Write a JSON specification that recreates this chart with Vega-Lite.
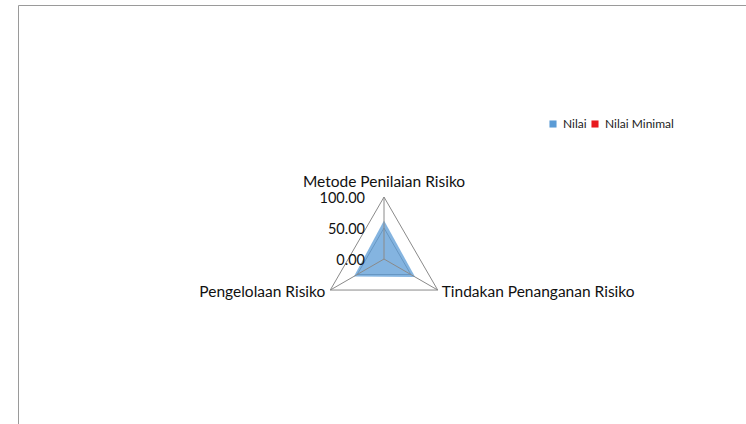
{
  "$schema": "https://vega.github.io/schema/vega-lite/v6.json",
  "width": 740,
  "height": 430,
  "padding": {"left": 18, "top": 5, "right": 0, "bottom": 0},
  "autosize": {"type": "none"},
  "background": "white",
  "config": {"view": {"stroke": "#9a9a9a", "strokeWidth": 1}, "font": "Lato"},
  "datasets": {
    "grid": [
      {"level": 50, "idx": 0}, {"level": 50, "idx": 1}, {"level": 50, "idx": 2},
      {"level": 100, "idx": 0}, {"level": 100, "idx": 1}, {"level": 100, "idx": 2}
    ],
    "axes": [
      {"axis": "Metode Penilaian Risiko", "idx": 0},
      {"axis": "Tindakan Penanganan Risiko", "idx": 1},
      {"axis": "Pengelolaan Risiko", "idx": 2}
    ],
    "scores": [
      {"series": "Nilai", "axis": "Metode Penilaian Risiko", "idx": 0, "value": 62},
      {"series": "Nilai", "axis": "Tindakan Penanganan Risiko", "idx": 1, "value": 58},
      {"series": "Nilai", "axis": "Pengelolaan Risiko", "idx": 2, "value": 56},
      {"series": "Nilai Minimal", "axis": "Metode Penilaian Risiko", "idx": 0, "value": 0},
      {"series": "Nilai Minimal", "axis": "Tindakan Penanganan Risiko", "idx": 1, "value": 0},
      {"series": "Nilai Minimal", "axis": "Pengelolaan Risiko", "idx": 2, "value": 0}
    ],
    "ticks": [
      {"level": 0, "label": "0.00"},
      {"level": 50, "label": "50.00"},
      {"level": 100, "label": "100.00"}
    ]
  },
  "layer": [
    {
      "data": {"name": "grid"},
      "transform": [
        {"filter": "datum.level == 50"},
        {"calculate": "datum.level * sin(datum.idx * 2 * PI / 3)", "as": "px"},
        {"calculate": "datum.level * cos(datum.idx * 2 * PI / 3)", "as": "py"}
      ],
      "mark": {"type": "line", "interpolate": "linear-closed", "color": "#8a8a8a", "strokeWidth": 1},
      "encoding": {
        "x": {"field": "px", "type": "quantitative", "scale": {"domain": [-590.3, 603.2]}, "axis": null},
        "y": {"field": "py", "type": "quantitative", "scale": {"domain": [-283.8, 409.7]}, "axis": null},
        "detail": {"field": "level"},
        "order": {"field": "idx"}
      }
    },
    {
      "data": {"name": "scores"},
      "transform": [
        {"calculate": "datum.value * sin(datum.idx * 2 * PI / 3)", "as": "px"},
        {"calculate": "datum.value * cos(datum.idx * 2 * PI / 3)", "as": "py"}
      ],
      "mark": {"type": "line", "interpolate": "linear-closed", "filled": true, "fillOpacity": 0.75, "strokeWidth": 0},
      "encoding": {
        "x": {"field": "px", "type": "quantitative", "scale": {"domain": [-590.3, 603.2]}, "axis": null},
        "y": {"field": "py", "type": "quantitative", "scale": {"domain": [-283.8, 409.7]}, "axis": null},
        "color": {
          "field": "series", "type": "nominal",
          "scale": {"domain": ["Nilai", "Nilai Minimal"], "range": ["#5B9BD5", "#E8191E"]},
          "legend": {
            "title": null, "orient": "none", "direction": "horizontal",
            "legendX": 529, "legendY": 113,
            "padding": 0, "symbolType": "square", "symbolSize": 50,
            "symbolOpacity": 1, "symbolStrokeWidth": 0,
            "labelFont": "Lato", "labelFontSize": 12, "labelColor": "#222",
            "labelOffset": 4, "columnPadding": 2
          }
        },
        "order": {"field": "idx"}
      }
    },
    {
      "data": {"name": "grid"},
      "transform": [
        {"filter": "datum.level == 100"},
        {"calculate": "datum.level * sin(datum.idx * 2 * PI / 3)", "as": "px"},
        {"calculate": "datum.level * cos(datum.idx * 2 * PI / 3)", "as": "py"}
      ],
      "mark": {"type": "line", "interpolate": "linear-closed", "color": "#8a8a8a", "strokeWidth": 1},
      "encoding": {
        "x": {"field": "px", "type": "quantitative", "scale": {"domain": [-590.3, 603.2]}, "axis": null},
        "y": {"field": "py", "type": "quantitative", "scale": {"domain": [-283.8, 409.7]}, "axis": null},
        "detail": {"field": "level"},
        "order": {"field": "idx"}
      }
    },
    {
      "data": {"name": "axes"},
      "transform": [
        {"calculate": "100 * sin(datum.idx * 2 * PI / 3)", "as": "px"},
        {"calculate": "100 * cos(datum.idx * 2 * PI / 3)", "as": "py"}
      ],
      "mark": {"type": "rule", "color": "#8a8a8a", "strokeWidth": 1},
      "encoding": {
        "x": {"field": "px", "type": "quantitative", "scale": {"domain": [-590.3, 603.2]}, "axis": null},
        "y": {"field": "py", "type": "quantitative", "scale": {"domain": [-283.8, 409.7]}, "axis": null},
        "x2": {"datum": 0},
        "y2": {"datum": 0}
      }
    },
    {
      "data": {"name": "axes"},
      "transform": [
        {"filter": "datum.idx == 0"},
        {"calculate": "100 * sin(datum.idx * 2 * PI / 3)", "as": "px"},
        {"calculate": "100 * cos(datum.idx * 2 * PI / 3)", "as": "py"}
      ],
      "mark": {"type": "text", "align": "center", "baseline": "alphabetic", "dy": -10, "fontSize": 15.5, "color": "#111"},
      "encoding": {
        "x": {"field": "px", "type": "quantitative", "scale": {"domain": [-590.3, 603.2]}, "axis": null},
        "y": {"field": "py", "type": "quantitative", "scale": {"domain": [-283.8, 409.7]}, "axis": null},
        "text": {"field": "axis"}
      }
    },
    {
      "data": {"name": "axes"},
      "transform": [
        {"filter": "datum.idx == 1"},
        {"calculate": "100 * sin(datum.idx * 2 * PI / 3)", "as": "px"},
        {"calculate": "100 * cos(datum.idx * 2 * PI / 3)", "as": "py"}
      ],
      "mark": {"type": "text", "align": "left", "baseline": "middle", "dx": 4, "dy": 2, "fontSize": 15.5, "color": "#111"},
      "encoding": {
        "x": {"field": "px", "type": "quantitative", "scale": {"domain": [-590.3, 603.2]}, "axis": null},
        "y": {"field": "py", "type": "quantitative", "scale": {"domain": [-283.8, 409.7]}, "axis": null},
        "text": {"field": "axis"}
      }
    },
    {
      "data": {"name": "axes"},
      "transform": [
        {"filter": "datum.idx == 2"},
        {"calculate": "100 * sin(datum.idx * 2 * PI / 3)", "as": "px"},
        {"calculate": "100 * cos(datum.idx * 2 * PI / 3)", "as": "py"}
      ],
      "mark": {"type": "text", "align": "right", "baseline": "middle", "dx": -5, "dy": 2, "fontSize": 15.5, "color": "#111"},
      "encoding": {
        "x": {"field": "px", "type": "quantitative", "scale": {"domain": [-590.3, 603.2]}, "axis": null},
        "y": {"field": "py", "type": "quantitative", "scale": {"domain": [-283.8, 409.7]}, "axis": null},
        "text": {"field": "axis"}
      }
    },
    {
      "data": {"name": "ticks"},
      "mark": {"type": "text", "align": "right", "baseline": "middle", "dx": -19, "dy": 2, "fontSize": 14.5, "color": "#111"},
      "encoding": {
        "x": {"datum": 0, "type": "quantitative", "scale": {"domain": [-590.3, 603.2]}, "axis": null},
        "y": {"field": "level", "type": "quantitative", "scale": {"domain": [-283.8, 409.7]}, "axis": null},
        "text": {"field": "label"}
      }
    }
  ]
}
